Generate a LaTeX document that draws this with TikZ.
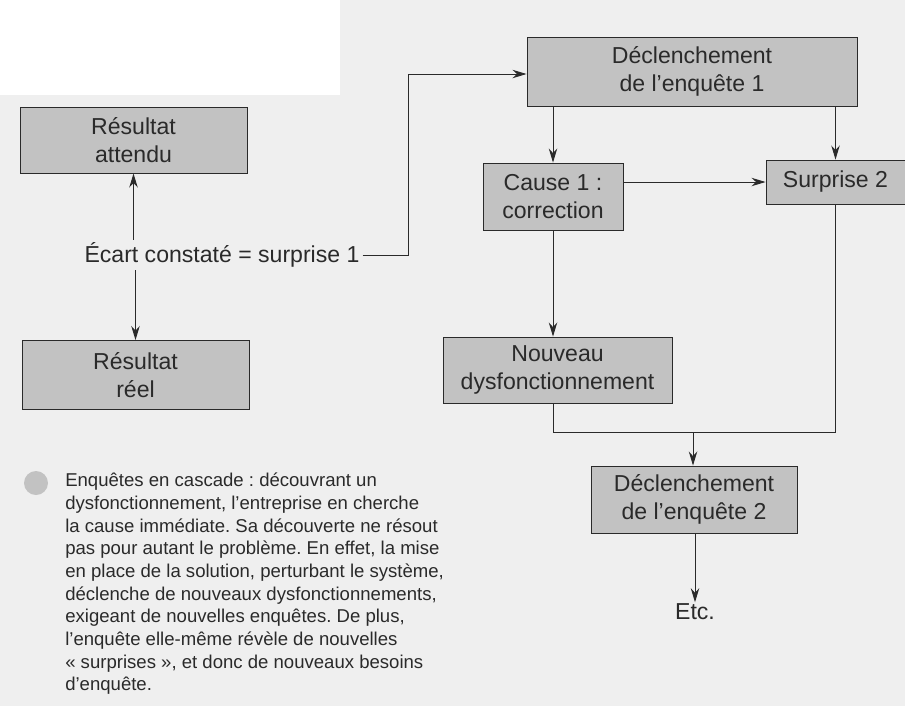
\documentclass[tikz,border=0pt]{standalone}
\usepackage{fontspec}
\setmainfont{Liberation Sans}
\frenchspacing
\usetikzlibrary{arrows.meta,positioning}

\definecolor{paper}{HTML}{EFEFEF}
\definecolor{boxgray}{HTML}{C2C2C2}
\definecolor{ink}{HTML}{2A2A2A}

\begin{document}
\begin{tikzpicture}[
        x=0.025cm, y=-0.025cm,
        every node/.style={font=\fontsize{16.4}{20}\selectfont, text=ink, align=center},
        box/.style={draw=ink, line width=0.6pt, fill=boxgray, inner sep=0pt},
        link/.style={draw=ink, line width=0.7pt, -{Stealth[length=10pt,width=6pt]}},
        line/.style={draw=ink, line width=0.7pt}]

    \fill[paper] (0,0) rectangle (905,706);
    \fill[white] (0,0) rectangle (340,95);
    \useasboundingbox (0,0) rectangle (905,706);

    \node [box, minimum width=5.675cm, minimum height=1.65cm] (attendu) at (133.5,140) {Résultat\\attendu};
    \node [box, minimum width=5.675cm, minimum height=1.725cm] (reel) at (135.5,375) {Résultat\\réel};
    \node [inner sep=2pt] (ecart) at (222,255) {Écart constaté = surprise 1};

    \node [box, minimum width=8.25cm, minimum height=1.725cm] (decl1) at (692,71.5) {Déclenchement\\de l’enquête 1};
    \node [box, minimum width=3.5cm, minimum height=1.675cm] (cause) at (553,196.5) {Cause 1 :\\correction};
    \node [box, minimum width=3.475cm, minimum height=1.1cm] (surprise) at (835.5,182) {Surprise 2};
    \node [box, minimum width=5.725cm, minimum height=1.65cm] (nouveau) at (557.5,370) {Nouveau\\dysfonctionnement};
    \node [box, minimum width=5.15cm, minimum height=1.675cm] (decl2) at (694,499.5) {Déclenchement\\de l’enquête 2};
    \node [inner sep=1pt] (etc) at (695,612) {Etc.};

    \coordinate (turn) at (408,74);
    \coordinate (join) at (693,432);

    \draw [link] (attendu.south |- ecart.north) -- (attendu.south);
    \draw [link] (reel.north |- ecart.south) -- (reel.north);
    \draw [link] (ecart.east) -| (turn) -- (decl1.west |- turn);

    \draw [link] (decl1.south -| cause.south) -- (cause.north);
    \draw [link] (decl1.south -| surprise.south) -- (surprise.north);
    \draw [link] (cause.east |- surprise.west) -- (surprise.west);
    \draw [link] (cause.south) -- (nouveau.north -| cause.south);
    \draw [line] (nouveau.south -| cause.south) |- (join) -| (surprise.south);
    \draw [link] (join) -- (decl2.north -| join);
    \draw [link] (decl2.south -| etc.north) -- (etc.north);

    \fill [boxgray] (36,483) circle (12);
    \node [anchor=north west, align=left, inner sep=0pt,
           font=\fontsize{13.2}{16.1}\selectfont] (legende) at (65,473)
        {Enquêtes en cascade : découvrant un\\
         dysfonctionnement, l’entreprise en cherche\\
         la cause immédiate. Sa découverte ne résout\\
         pas pour autant le problème. En effet, la mise\\
         en place de la solution, perturbant le système,\\
         déclenche de nouveaux dysfonctionnements,\\
         exigeant de nouvelles enquêtes. De plus,\\
         l’enquête elle-même révèle de nouvelles\\
         « surprises », et donc de nouveaux besoins\\
         d’enquête.};
\end{tikzpicture}
\end{document}
